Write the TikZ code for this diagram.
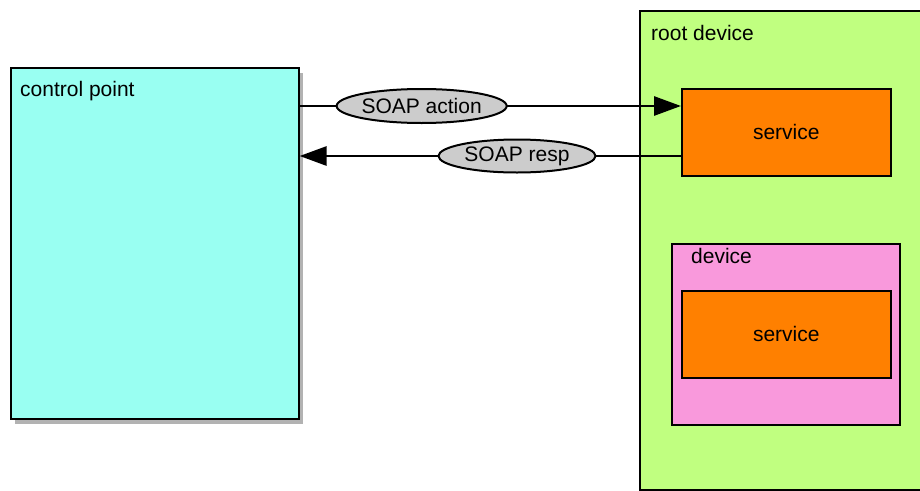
\documentclass[tikz,border=0pt]{standalone}
\usepackage{fontspec}
\setmainfont{Liberation Sans}
\usetikzlibrary{arrows.meta,shapes.geometric,shadows}

\definecolor{cpcyan}{HTML}{99FFF2}
\definecolor{rootgreen}{HTML}{C0FF80}
\definecolor{svcorange}{HTML}{FF8000}
\definecolor{devpink}{HTML}{F999DC}
\definecolor{msggray}{HTML}{CCCCCC}

\begin{document}
\begin{tikzpicture}[x = 1pt, y = -1pt,
	every node/.style = {font = \fontsize{21pt}{25pt}\selectfont},
	box/.style = {draw, line width = 1.6pt, inner sep = 0pt, anchor = north west},
	title/.style = {anchor = base west, inner sep = 0pt},
	msg/.style = {line width = 2.8pt, -{Triangle[length = 27pt, width = 19pt]}},
	msglabel/.style = {ellipse, draw, line width = 2pt, fill = msggray, inner sep = 0pt}]
			\useasboundingbox (0, 0) rectangle (920, 490);
			% control point
			\node[box, fill = cpcyan, minimum width = 288pt, minimum height = 351pt,
			drop shadow = {shadow xshift = 4pt, shadow yshift = -5pt, fill = black!30, opacity = 1}]
			(cp) at (10, 67) {};
			\node[title] (cptext) at (20, 96) {control point};
			% root device
			\node[box, fill = rootgreen, minimum width = 284pt, minimum height = 479pt] (root) at (639, 10) {};
			\node[title] (roottext) at (651, 40) {root device};
			\node[box, fill = svcorange, minimum width = 209pt, minimum height = 87pt] (svc) at (681, 88) {service};
			% embedded device
			\node[box, fill = devpink, minimum width = 228pt, minimum height = 181pt] (dev) at (671, 243) {};
			\node[title] (devtext) at (691, 263) {device};
			\node[box, fill = svcorange, minimum width = 209pt, minimum height = 87pt] (devsvc) at (681, 290) {service};
			% messages
			\coordinate (act) at (0, 106);
			\coordinate (resp) at (0, 156);
			\draw[msg] (cp.east |- act) -- node[msglabel, pos = 0.32, minimum width = 161pt, minimum height = 34pt] (action) {SOAP action} (svc.west |- act);
			\draw[msg] (svc.west |- resp) -- node[msglabel, pos = 0.43, minimum width = 157pt, minimum height = 33pt] (response) {SOAP resp} (cp.east |- resp);
			\end{tikzpicture}
\end{document}
